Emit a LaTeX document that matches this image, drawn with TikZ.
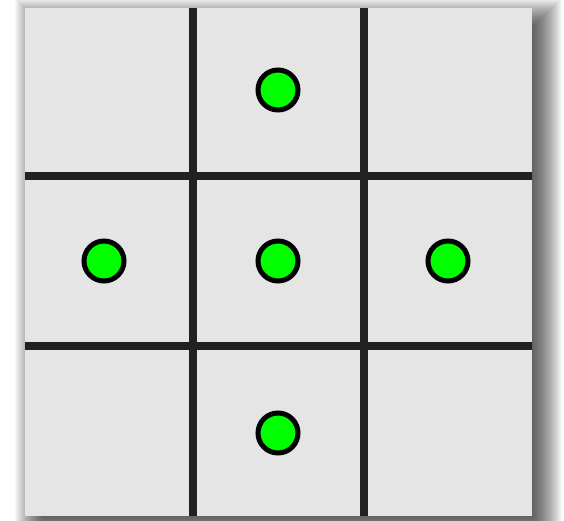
\documentclass[tikz,border=0pt]{standalone}
\begin{document}
\begin{tikzpicture}[x=1pt,y=-1pt,
  gridline/.style={draw={rgb,255:red,34;green,32;blue,32},line width=8pt},
  token/.style={circle,draw=black,line width=5pt,fill={rgb,255:red,0;green,255;blue,0},minimum size=40pt,inner sep=0pt}]
\useasboundingbox (0,0) rectangle (564,521);
% blurred shadow
\foreach \e in {-20,...,20}{
  \fill[black,opacity=0.03] ({25+10-\e},{8+10-\e}) rectangle ({532+10+\e},{516+10+\e});
}
\fill[gray!20] (25,8) rectangle (532,516);
\coordinate (v1t) at (193,8); \coordinate (v1b) at (193,516);
\coordinate (v2t) at (364,8); \coordinate (v2b) at (364,516);
\coordinate (h1l) at (25,176); \coordinate (h1r) at (532,176);
\coordinate (h2l) at (25,346); \coordinate (h2r) at (532,346);
\draw[gridline] (v1t) -- (v1b);
\draw[gridline] (v2t) -- (v2b);
\draw[gridline] (h1l) -- (h1r);
\draw[gridline] (h2l) -- (h2r);
\node[token] (n) at (278,90) {};
\node[token] (w) at (104,261) {};
\node[token] (c) at (278,261) {};
\node[token] (e) at (448,261) {};
\node[token] (s) at (278,433) {};
\end{tikzpicture}
\end{document}
